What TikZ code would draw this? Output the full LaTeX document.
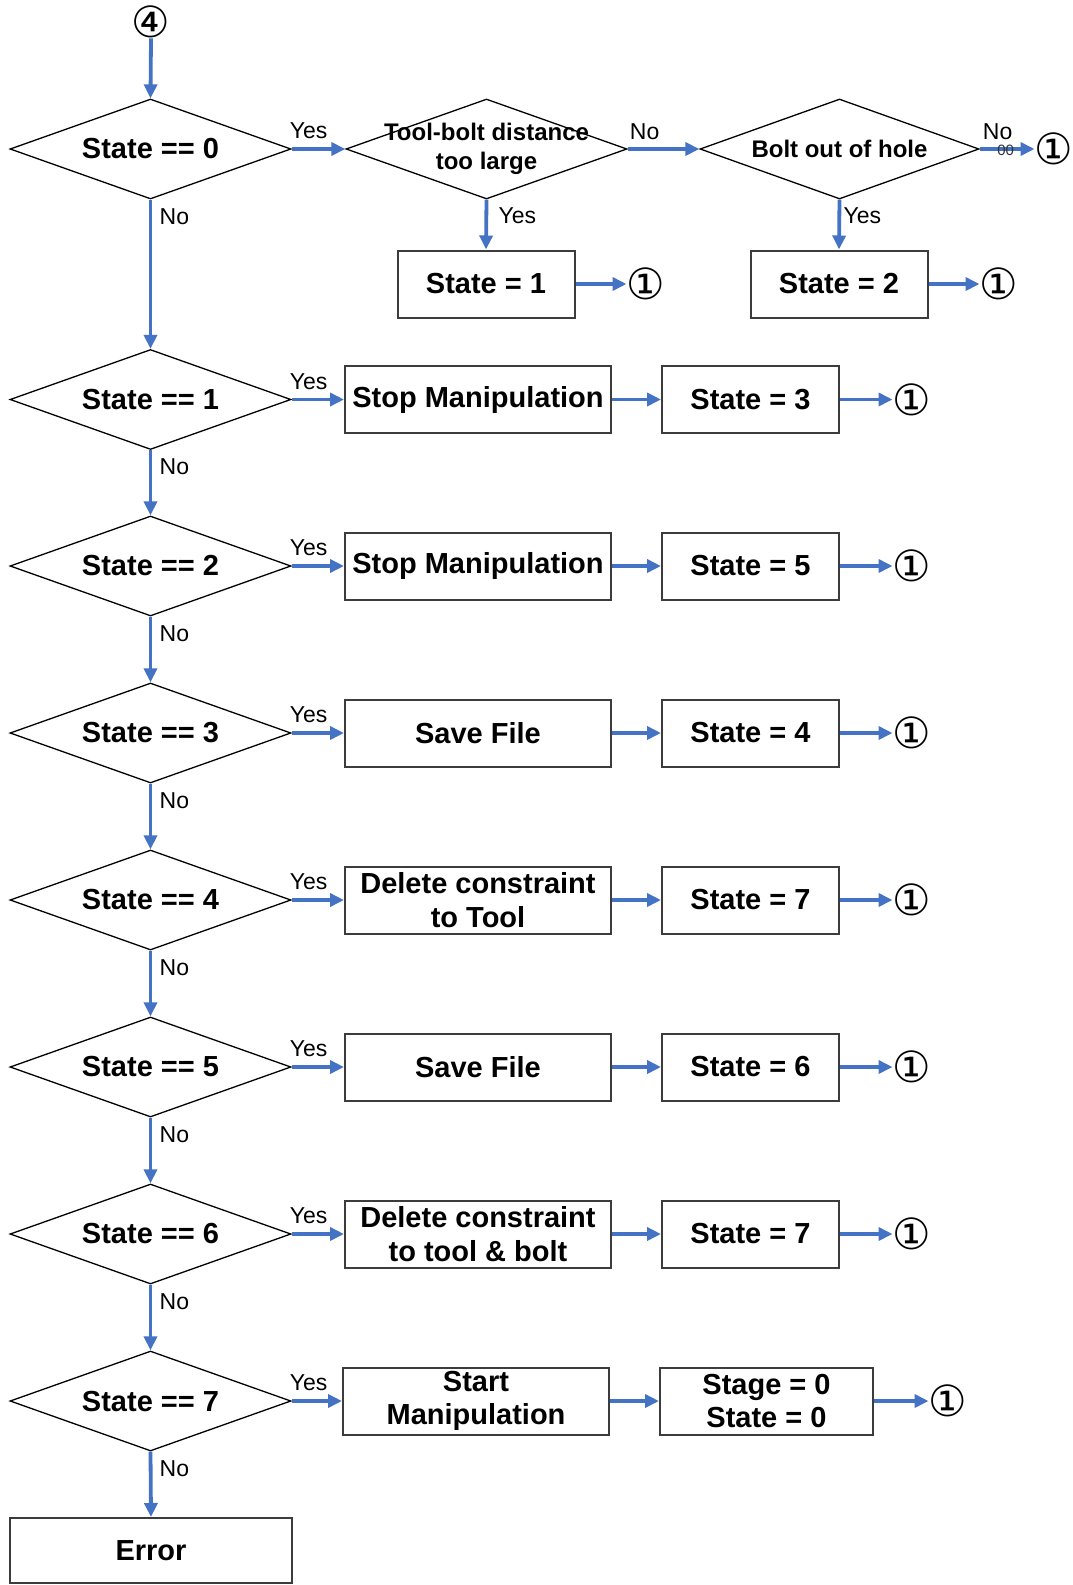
\documentclass[tikz,border=0pt]{standalone}
\usepackage{fontspec}
\setmainfont{Liberation Sans}
\newfontfamily\symfont{DejaVu Sans}
\usetikzlibrary{shapes.geometric,arrows.meta}
\definecolor{flowblue}{RGB}{68,114,196}
\definecolor{boxgray}{RGB}{60,60,60}
\begin{document}
\begin{tikzpicture}[x=1pt,y=-1pt,
  decision/.style={diamond, draw=black, line width=1.3pt, minimum width=281pt, minimum height=100pt, inner sep=0pt},
  dtext/.style={font=\fontsize{29}{33}\selectfont\bfseries, align=center, inner sep=0pt},
  stext/.style={font=\fontsize{24}{28.5}\selectfont\bfseries, align=center, inner sep=0pt},
  process/.style={draw=boxgray, line width=2pt, minimum height=67pt, inner sep=0pt,
    font=\fontsize{29}{33.4}\selectfont\bfseries, align=center},
  link/.style={draw=flowblue, line width=3.8pt, -{Triangle[length=14pt,width=13pt]}},
  ans/.style={font=\fontsize{23}{23}\selectfont, inner sep=0pt},
  conn/.style={font=\symfont\fontsize{43}{43}\selectfont, inner sep=0pt},
]
\useasboundingbox (0,0) rectangle (1073,1585);

% entry point
\node[conn] (start) at (151,22) {④};

% first row: state 0 and its checks
\node[decision] (d0) at (150.5,149) {};
\node[dtext] (d0t) at (d0) {State == 0};
\node[decision] (dist) at (486.5,149) {};
\node[stext] (distt) at (dist) {Tool-bolt distance\\too large};
\node[decision, minimum width=279pt] (hole) at (839.5,149) {};
\node[stext] (holet) at (hole) {Bolt out of hole};
\node[process, minimum width=177pt] (s1) at (486,284) {State = 1};
\node[process, minimum width=177pt] (s2) at (839,284) {State = 2};
\node[conn] (c1) at (646,284) {①};
\node[conn] (c2) at (999,284) {①};
\node[conn] (c3) at (1054,149) {①};

\draw[link] (start.south) -- (d0.north);
\draw[link] (d0.east) -- (dist.west);
\draw[link] (dist.east) -- (hole.west);
\draw[link] (dist.south) -- (s1.north);
\draw[link] (hole.south) -- (s2.north);
\draw[link] (hole.east) -- (c3.west);
\draw[link] (s1.east) -- (c1.west);
\draw[link] (s2.east) -- (c2.west);

\node[ans] (y0) at ([xshift=17pt,yshift=18pt]d0.east) {Yes};
\node[ans] (n0) at ([xshift=17pt,yshift=17pt]dist.east) {No};
\node[ans, anchor=west] (y0a) at ([xshift=12pt,yshift=-16pt]dist.south) {Yes};
\node[ans, anchor=west] (y0b) at ([xshift=4pt,yshift=-16pt]hole.south) {Yes};
\node[ans] (n0b) at ([xshift=18pt,yshift=17pt]hole.east) {No};
\node[font=\fontsize{15}{15}\selectfont, text=black!80, inner sep=0pt] (z0) at ([xshift=26pt,yshift=-1pt]hole.east) {00};

% rows for states 1 to 6
\foreach \k/\y/\a/\b in {1/399.5/Stop Manipulation/State = 3,
                         2/566/Stop Manipulation/State = 5,
                         3/733/Save File/State = 4,
                         4/900/{Delete constraint\\to Tool}/State = 7,
                         5/1067/Save File/State = 6,
                         6/1234/{Delete constraint\\to tool \& bolt}/State = 7}{
  \node[decision] (d\k) at (150.5,\y) {};
  \node[dtext] (d\k t) at (d\k) {State == \k};
  \node[process, minimum width=266pt] (p\k) at (478,\y) {\a};
  \node[process, minimum width=177pt] (q\k) at (750.5,\y) {\b};
  \node[conn] (c\k) at (912,\y) {①};
  \draw[link] (d\k.east) -- (p\k.west);
  \draw[link] (p\k.east) -- (q\k.west);
  \draw[link] (q\k.east) -- (c\k.west);
  \node[ans] (y\k) at ([xshift=17pt,yshift=18pt]d\k.east) {Yes};
}

% last state check
\node[decision] (d7) at (150.5,1401) {};
\node[dtext] (d7t) at (d7) {State == 7};
\node[process, minimum width=266pt] (p7) at (476,1401) {Start\\Manipulation};
\node[process, minimum width=213pt] (q7) at (766.5,1401) {Stage = 0\\State = 0};
\node[conn] (c7) at (948,1401) {①};
\draw[link] (d7.east) -- (p7.west);
\draw[link] (p7.east) -- (q7.west);
\draw[link] (q7.east) -- (c7.west);
\node[ans] (y7) at ([xshift=17pt,yshift=18pt]d7.east) {Yes};

\node[process, minimum width=282pt, minimum height=65pt] (err) at (151,1550.5) {Error};

% downward "No" chain
\foreach \i/\j in {0/1,1/2,2/3,3/4,4/5,5/6,6/7}{
  \draw[link] (d\i.south) -- (d\j.north);
  \node[ans, anchor=west] (n\i) at ([xshift=9pt,yshift=-17pt]d\i.south) {No};
}
\draw[link] (d7.south) -- (err.north);
\node[ans, anchor=west] (n7) at ([xshift=9pt,yshift=-17pt]d7.south) {No};
\end{tikzpicture}
\end{document}
